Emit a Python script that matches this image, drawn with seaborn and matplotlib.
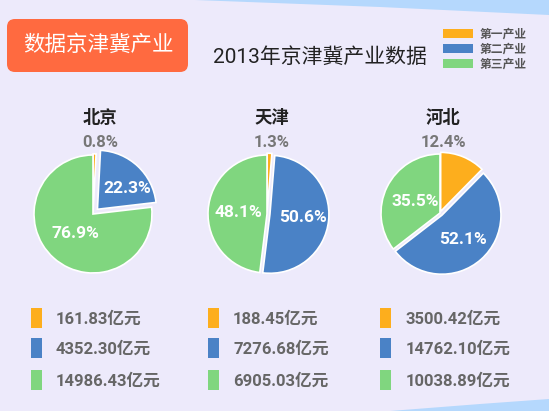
import numpy as np
import matplotlib.pyplot as plt
import seaborn as sns
from matplotlib.patches import FancyBboxPatch, Polygon, Rectangle

regions = ['北京', '天津', '河北']
industries = ['第一产业', '第二产业', '第三产业']
beijing = [161.83, 4352.30, 14986.43]
tianjin = [188.45, 7276.68, 6905.03]
hebei = [3500.42, 14762.10, 10038.89]
beijing_pct = ['0.8%', '22.3%', '76.9%']
tianjin_pct = ['1.3%', '50.6%', '48.1%']
hebei_pct = ['12.4%', '52.1%', '35.5%']
amount_labels = [
    ['161.83亿元', '4352.30亿元', '14986.43亿元'],
    ['188.45亿元', '7276.68亿元', '6905.03亿元'],
    ['3500.42亿元', '14762.10亿元', '10038.89亿元'],
]

sns.set_theme(style='white')
plt.rcParams['font.family'] = ['Roboto', 'Noto Sans CJK SC', 'DejaVu Sans']
palette = sns.color_palette(['#fdae1d', '#4a82c6', '#80d67f'])
bg = '#edeafb'

W, H = 549, 411
fig = plt.figure(figsize=(W / 100, H / 100), dpi=100, facecolor=bg)

# background layer in pixel coordinates
base = fig.add_axes([0, 0, 1, 1])
base.set_xlim(0, W)
base.set_ylim(H, 0)
base.axis('off')
base.set_facecolor(bg)
base.add_patch(Polygon([(195, 0), (W, 0), (W, 15), (380, 7)], closed=True,
                       color='#b5d8fd', lw=0))
base.add_patch(Polygon([(390, H), (480, 404), (W, 399), (W, H)], closed=True,
                       color='#b5d8fd', lw=0))
base.add_patch(FancyBboxPatch((7, 19), 181, 53, boxstyle='round,pad=0,rounding_size=8',
                              color='#ff6a40', lw=0))
base.text(98, 45, '数据京津冀产业', color='white', fontsize=15.5, ha='center', va='center')
base.text(320, 57, '2013年京津冀产业数据', color='#222222', fontsize=15,
          ha='center', va='center')

for i, name in enumerate(industries):
    y = 34 + i * 15
    base.add_patch(Rectangle((443, y - 4.5), 30, 9, color=palette[i], lw=0))
    base.text(480, y, name, color='#555555', fontsize=8.5, fontweight='bold',
              ha='left', va='center')

# pies
series = [beijing, tianjin, hebei]
pcts = [beijing_pct, tianjin_pct, hebei_pct]
centers = [(93, 214), (267, 214), (440, 213)]
title_x = [100, 272, 443]
explodes = [[0.02, 0.11, 0], [0.03, 0.05, 0], [0.03, 0.05, 0]]
label_dist = [[0, 0.62, 0.45], [0, 0.56, 0.48], [0, 0.54, 0.46]]
label_turn = [[0, -12, 0], [0, 0, 0], [0, 0, 0]]
radius_px = 59
half = 1.3

for k in range(3):
    cx, cy = centers[k]
    size = 2 * half * radius_px
    ax = fig.add_axes([(cx - size / 2) / W, (H - cy - size / 2) / H, size / W, size / H])
    wedges, _ = ax.pie(series[k], colors=palette, startangle=90, counterclock=False,
                       explode=explodes[k], radius=1,
                       wedgeprops=dict(edgecolor='white', linewidth=1.2))
    ax.set_xlim(-half, half)
    ax.set_ylim(-half, half)
    ax.set_aspect('equal')
    ax.axis('off')
    for j in (1, 2):
        w = wedges[j]
        ang = np.deg2rad((w.theta1 + w.theta2) / 2 + label_turn[k][j])
        r = label_dist[k][j]
        ox, oy = w.center
        ax.text(ox + r * np.cos(ang), oy + r * np.sin(ang), pcts[k][j], color='white',
                fontsize=12.5, fontweight='bold', ha='center', va='center')

    base.text(title_x[k], 117, regions[k], color='#222222', fontsize=12.5,
              fontweight='bold', ha='center', va='center')
    base.text(title_x[k], 142, pcts[k][0], color='#777777', fontsize=12,
              fontweight='bold', ha='center', va='center')

# amount rows under the pies
col_rect = [31, 208, 380]
col_text = [56, 233, 406]
row_y = [318, 348, 380]
for k in range(3):
    for i in range(3):
        base.add_patch(Rectangle((col_rect[k], row_y[i] - 10), 10.5, 20,
                                 color=palette[i], lw=0))
        base.text(col_text[k], row_y[i] + 1, amount_labels[k][i], color='#666666',
                  fontsize=12, fontweight='bold', ha='left', va='center')

fig.savefig('out.png', dpi=100, facecolor=bg)
